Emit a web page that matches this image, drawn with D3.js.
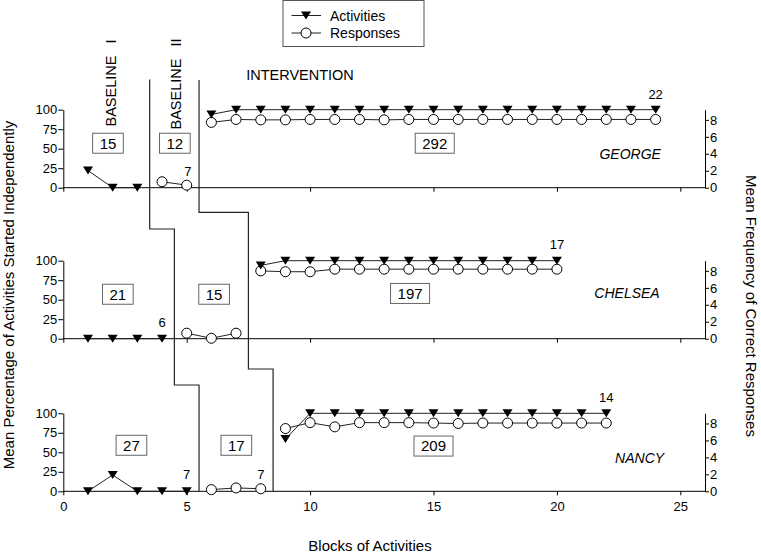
<!DOCTYPE html>
<html>
<head>
<meta charset="utf-8">
<script src="https://cdn.jsdelivr.net/npm/d3@7"></script>
<style>
  html, body { margin: 0; padding: 0; background: #fff; }
  svg { display: block; font-family: "Liberation Sans", Arial, Helvetica, sans-serif; }
</style>
</head>
<body>
<svg id="chart" width="761" height="553"></svg>
<script>
// ---------------- DATA ----------------
const participants = ["GEORGE", "CHELSEA", "NANCY"];

// Activities (left axis, %) — start block + values
const georgeActBaseStart = 1;   const georgeActBase = [22, 0, 0];
const georgeActIntStart = 6;    const georgeActInt = [94, 100, 100, 100, 100, 100, 100, 100, 100, 100, 100, 100, 100, 100, 100, 100, 100, 100, 100];
const chelseaActBaseStart = 1;  const chelseaActBase = [0, 0, 0, 0];
const chelseaActIntStart = 8;   const chelseaActInt = [94, 100, 100, 100, 100, 100, 100, 100, 100, 100, 100, 100, 100];
const nancyActBaseStart = 1;    const nancyActBase = [0, 21, 0, 0, 0];
const nancyActIntStart = 9;     const nancyActInt = [67, 100, 100, 100, 100, 100, 100, 100, 100, 100, 100, 100, 100, 100];

// Responses (right axis, mean frequency)
const georgeRespBaseStart = 4;  const georgeRespBase = [0.7, 0.3];
const georgeRespIntStart = 6;   const georgeRespInt = [7.7, 8.05, 8.0, 8.0, 8.05, 8.05, 8.05, 8.0, 8.05, 8.05, 8.05, 8.05, 8.05, 8.05, 8.05, 8.05, 8.05, 8.05, 8.05];
const chelseaRespBaseStart = 5; const chelseaRespBase = [0.65, 0.05, 0.65];
const chelseaRespIntStart = 8;  const chelseaRespInt = [8.0, 7.9, 7.9, 8.2, 8.2, 8.2, 8.2, 8.2, 8.2, 8.2, 8.2, 8.2, 8.2];
const nancyRespBaseStart = 6;   const nancyRespBase = [0.2, 0.4, 0.3];
const nancyRespIntStart = 9;    const nancyRespInt = [7.4, 8.1, 7.6, 8.1, 8.1, 8.1, 8.05, 8.0, 8.05, 8.05, 8.05, 8.05, 8.05, 8.05];

// Phase-change lines (block positions per panel)
const phaseLine1 = [3.5, 4.5, 5.5];
const phaseLine2 = [5.5, 7.5, 8.5];

// Boxed session counts: [label, block, percent]
const georgeBoxes  = [["15", 1.81, 57], ["12", 4.52, 57], ["292", 15.05, 57]];
const chelseaBoxes = [["21", 2.21, 57], ["15", 6.11, 57], ["197", 14.05, 58]];
const nancyBoxes   = [["27", 2.76, 59], ["17", 7.01, 59], ["209", 15.0, 58]];

// Small numeric labels: [label, block, percent]
const georgeNotes  = [["7", 5.05, 21.5], ["22", 24, 119.5]];
const chelseaNotes = [["6", 4.0, 21], ["17", 20, 121.5]];
const nancyNotes   = [["7", 5.0, 21.5], ["7", 8.0, 21.5], ["14", 22, 121]];

// Participant label positions: [block, percent]
const nameX = [22.97, 22.84, 23.35];
const nameY = [43, 58.4, 42.3];

const xTicks = [0, 5, 10, 15, 20, 25];
const leftTicks = [0, 25, 50, 75, 100];
const rightTicks = [0, 2, 4, 6, 8];

// ---------------- LAYOUT ----------------
const svg = d3.select("#chart");
const FONT = "\"Liberation Sans\", Arial, Helvetica, sans-serif";
const x0 = 63.3, x1 = 705;
const panelZero = [187.7, 338.7, 491.3];
const panelH = 78;
const stepY1 = [229, 385];   // y of horizontal steps for line 1
const stepY2 = [212.3, 369]; // y of horizontal steps for line 2

const x = d3.scaleLinear().domain([0, 26]).range([x0, x1]);

const actData = [
  [[georgeActBaseStart, georgeActBase], [georgeActIntStart, georgeActInt]],
  [[chelseaActBaseStart, chelseaActBase], [chelseaActIntStart, chelseaActInt]],
  [[nancyActBaseStart, nancyActBase], [nancyActIntStart, nancyActInt]]
];
const respData = [
  [[georgeRespBaseStart, georgeRespBase], [georgeRespIntStart, georgeRespInt]],
  [[chelseaRespBaseStart, chelseaRespBase], [chelseaRespIntStart, chelseaRespInt]],
  [[nancyRespBaseStart, nancyRespBase], [nancyRespIntStart, nancyRespInt]]
];
const boxes = [georgeBoxes, chelseaBoxes, nancyBoxes];
const notes = [georgeNotes, chelseaNotes, nancyNotes];

const triPath = "M-5,-4 L5,-4 L0,4 Z";
const lineColor = "#222";

participants.forEach((name, p) => {
  const yL = d3.scaleLinear().domain([0, 100]).range([panelZero[p], panelZero[p] - panelH]);
  const yR = d3.scaleLinear().domain([0, 9.2]).range([panelZero[p], panelZero[p] - panelH]);
  const g = svg.append("g");

  // x axis (zero line)
  const xAxis = d3.axisBottom(x).tickValues(xTicks).tickSize(4).tickSizeOuter(0)
    .tickFormat(p === 2 ? d3.format("d") : () => "");
  const gx = g.append("g").attr("transform", `translate(0,${panelZero[p]})`).call(xAxis);
  gx.select(".domain").attr("d", `M${x0},0H${x1}`).attr("stroke", "#000");
  gx.selectAll("line").attr("stroke", "#000");
  gx.selectAll("text").attr("font-family", FONT).attr("font-size", 13).attr("fill", "#000").attr("dy", "0.95em");

  // left axis
  const gl = g.append("g").attr("transform", `translate(${x0},0)`)
    .call(d3.axisLeft(yL).tickValues(leftTicks).tickSize(5).tickSizeOuter(0));
  gl.select(".domain").attr("stroke", "#000");
  gl.selectAll("line").attr("stroke", "#000");
  gl.selectAll("text").attr("font-family", FONT).attr("font-size", 13).attr("fill", "#000").attr("x", -6);

  // right axis
  const gr = g.append("g").attr("transform", `translate(${x1},0)`)
    .call(d3.axisRight(yR).tickValues(rightTicks).tickSize(4).tickSizeOuter(0));
  gr.select(".domain").attr("stroke", "#000");
  gr.selectAll("line").attr("stroke", "#000");
  gr.selectAll("text").attr("font-family", FONT).attr("font-size", 13).attr("fill", "#000").attr("x", 5);

  const lineL = d3.line().x(d => x(d[0])).y(d => yL(d[1]));
  const lineR = d3.line().x(d => x(d[0])).y(d => yR(d[1]));
  const toPts = ([s, vals]) => vals.map((v, i) => [s + i, v]);

  respData[p].forEach(seg => {
    g.append("path").attr("d", lineR(toPts(seg))).attr("fill", "none").attr("stroke", lineColor).attr("stroke-width", 1);
  });
  actData[p].forEach(seg => {
    g.append("path").attr("d", lineL(toPts(seg))).attr("fill", "none").attr("stroke", lineColor).attr("stroke-width", 1);
  });
  respData[p].forEach(seg => {
    g.selectAll(null).data(toPts(seg)).enter().append("circle")
      .attr("cx", d => x(d[0])).attr("cy", d => yR(d[1])).attr("r", 5)
      .attr("fill", "#fff").attr("stroke", "#000").attr("stroke-width", 1);
  });
  actData[p].forEach(seg => {
    g.selectAll(null).data(toPts(seg)).enter().append("path")
      .attr("d", triPath).attr("transform", d => `translate(${x(d[0])},${yL(d[1])})`)
      .attr("fill", "#000");
  });

  // boxed counts
  boxes[p].forEach(([lab, bx, by]) => {
    const rect = g.append("rect");
    const t = g.append("text").attr("x", x(bx)).attr("y", yL(by)).attr("text-anchor", "middle")
      .attr("dy", "0.36em").attr("font-family", FONT).attr("font-size", 15).attr("fill", "#000").text(lab);
    const w = t.node().getComputedTextLength() + 14;
    rect.attr("x", x(bx) - w / 2).attr("y", yL(by) - 10).attr("width", w).attr("height", 20)
      .attr("fill", "#fff").attr("stroke", "#666").attr("stroke-width", 1);
  });
  // small notes
  notes[p].forEach(([lab, bx, by]) => {
    g.append("text").attr("x", x(bx)).attr("y", yL(by)).attr("text-anchor", "middle").attr("dy", "0.36em")
      .attr("font-family", FONT).attr("font-size", 13).attr("fill", "#000").text(lab);
  });
  // name
  g.append("text").attr("x", x(nameX[p])).attr("y", yL(nameY[p])).attr("text-anchor", "middle").attr("dy", "0.36em")
    .attr("font-family", FONT).attr("font-size", 14).attr("font-style", "italic").attr("fill", "#000").text(name);
});

// phase change lines (staircase)
const stair = (xs, steps, top) => {
  let d = `M${x(xs[0])},${top}`;
  d += `V${steps[0]}H${x(xs[1])}V${steps[1]}H${x(xs[2])}V${panelZero[2]}`;
  return d;
};
svg.append("path").attr("d", stair(phaseLine1, stepY1, 79.5)).attr("fill", "none").attr("stroke", lineColor).attr("stroke-width", 1.2);
svg.append("path").attr("d", stair(phaseLine2, stepY2, 80)).attr("fill", "none").attr("stroke", lineColor).attr("stroke-width", 1.2);

// phase labels
svg.append("text").attr("transform", "translate(115.5,83) rotate(-90)").attr("text-anchor", "middle")
  .attr("font-family", FONT).attr("font-size", 14.5).attr("fill", "#000").style("white-space", "pre").text("BASELINE   I");
svg.append("text").attr("transform", "translate(181,84) rotate(-90)").attr("text-anchor", "middle")
  .attr("font-family", FONT).attr("font-size", 14.5).attr("fill", "#000").style("white-space", "pre").text("BASELINE   II");
svg.append("text").attr("x", 300).attr("y", 80).attr("text-anchor", "middle")
  .attr("font-family", FONT).attr("font-size", 14.5).attr("fill", "#000").text("INTERVENTION");

// axis titles
svg.append("text").attr("transform", "translate(14,295) rotate(-90)").attr("text-anchor", "middle")
  .attr("font-family", FONT).attr("font-size", 15).attr("fill", "#000").text("Mean Percentage of Activities Started Independently");
svg.append("text").attr("transform", "translate(746,306) rotate(90)").attr("text-anchor", "middle")
  .attr("font-family", FONT).attr("font-size", 15).attr("fill", "#000").text("Mean Frequency of Correct Responses");
svg.append("text").attr("x", 370).attr("y", 551).attr("text-anchor", "middle")
  .attr("font-family", FONT).attr("font-size", 15).attr("fill", "#000").text("Blocks of Activities");

// legend
const lg = svg.append("g");
lg.append("rect").attr("x", 283).attr("y", 0.5).attr("width", 141).attr("height", 46)
  .attr("fill", "#fff").attr("stroke", "#555").attr("stroke-width", 1);
const legendItems = [["Activities", 15.5], ["Responses", 33]];
legendItems.forEach(([lab, ly], i) => {
  lg.append("line").attr("x1", 291.5).attr("x2", 321).attr("y1", ly).attr("y2", ly).attr("stroke", lineColor);
  if (i === 0) lg.append("path").attr("d", triPath).attr("transform", `translate(306,${ly})`).attr("fill", "#000");
  else lg.append("circle").attr("cx", 306).attr("cy", ly).attr("r", 5).attr("fill", "#fff").attr("stroke", "#000");
  lg.append("text").attr("x", 330).attr("y", ly).attr("dy", "0.36em").attr("font-family", FONT)
    .attr("font-size", 14).attr("fill", "#000").text(lab);
});
</script>
</body>
</html>
